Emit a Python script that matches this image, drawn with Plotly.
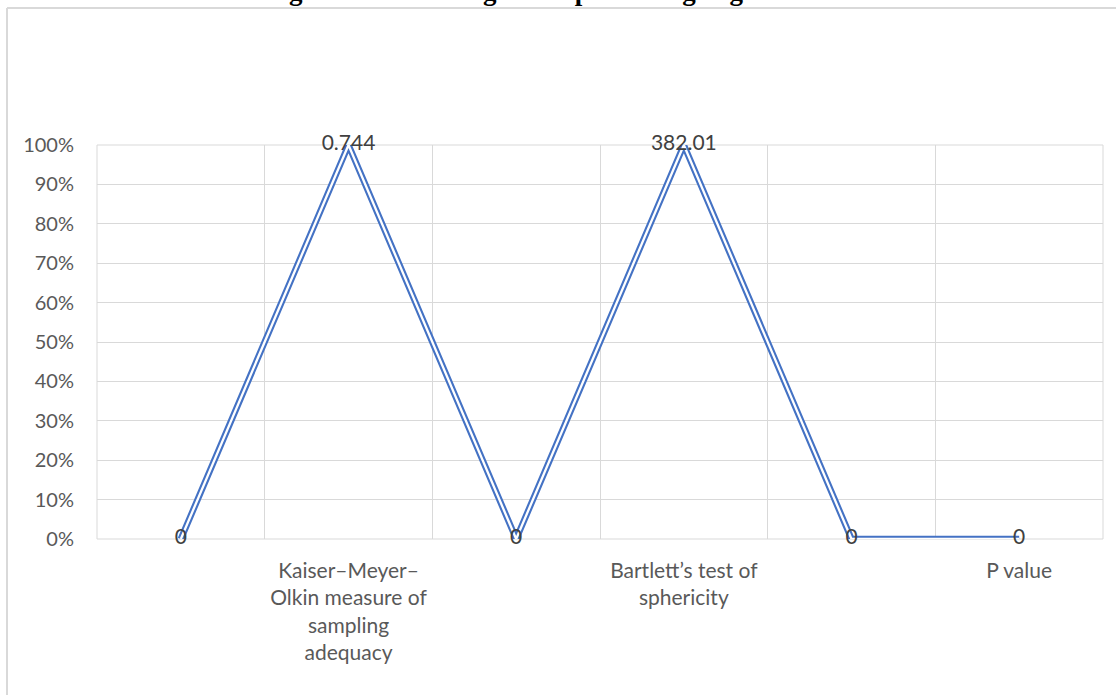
import plotly.graph_objects as go

# Chart data
categories = ["", "Kaiser–Meyer–Olkin measure of sampling adequacy", "",
              "Bartlett’s test of sphericity", "", "P value"]
tick_labels = ["", "Kaiser–Meyer–<br>Olkin measure of<br>sampling<br>adequacy", "",
               "Bartlett’s test of<br>sphericity", "", "P value"]
values = [0, 0.744, 0, 382.01, 0, 0]
value_labels = ["0", "0.744", "0", "382.01", "0", "0"]

# 100% stacked: each point is its share of the column total (single series)
totals = list(values)
shares = [v / t if t else 0 for v, t in zip(values, totals)]
xpos = list(range(len(categories)))

W, H = 1116, 695
L, R, T, B = 97, 13, 145, 156
pw, ph = W - L - R, H - T - B

def px_to_paper_x(px):
    return (px - L) / pw

def px_to_paper_y(py):
    return (H - B - py) / ph

BLUE = "#4472C4"
GRID = "#D9D9D9"
FONT = "Lato"

fig = go.Figure()
# compound (double) line: wide blue stroke with a thin white core
fig.add_trace(go.Scatter(x=xpos, y=shares, mode="lines",
                         line=dict(color=BLUE, width=6.5), cliponaxis=False,
                         hoverinfo="skip", showlegend=False))
fig.add_trace(go.Scatter(x=xpos, y=shares, mode="lines",
                         line=dict(color="white", width=2.3), cliponaxis=False,
                         hoverinfo="skip", showlegend=False))
fig.add_trace(go.Scatter(x=xpos, y=shares, mode="text", text=value_labels,
                         textposition="middle center",
                         textfont=dict(family=FONT, size=21, color="#404040"),
                         cliponaxis=False, hoverinfo="skip", showlegend=False))

fig.update_layout(
    width=W, height=H,
    margin=dict(l=L, r=R, t=T, b=B, autoexpand=False),
    paper_bgcolor="white", plot_bgcolor="white",
    font=dict(family=FONT, color="#595959", size=20),
    xaxis=dict(range=[-0.5, 5.5], tickvals=xpos, ticktext=tick_labels,
               showgrid=False, zeroline=False, showline=False, ticks="",
               ticklabelstandoff=17,
               tickfont=dict(family=FONT, size=21, color="#595959"),
               minor=dict(tickvals=[i - 0.5 for i in range(len(categories) + 1)],
                          showgrid=True, gridcolor=GRID, gridwidth=1, ticks="")),
    yaxis=dict(range=[0, 1], tickvals=[i / 10 for i in range(11)],
               tickformat=".0%", showgrid=True, gridcolor=GRID, gridwidth=1,
               zeroline=False, showline=False, ticks="", ticklabelstandoff=22,
               tickfont=dict(family=FONT, size=20, color="#595959")),
)

# plot-area outline (gridlines along the edges)
fig.add_shape(type="rect", xref="paper", yref="paper", x0=0, x1=1, y0=0, y1=1,
              line=dict(color=GRID, width=1), layer="below")

# outer chart frame (top and left edges)
fx0, fy0 = px_to_paper_x(7), px_to_paper_y(8)
fig.add_shape(type="line", xref="paper", yref="paper", x0=fx0, x1=1.2, y0=fy0, y1=fy0,
              line=dict(color=GRID, width=2))
fig.add_shape(type="line", xref="paper", yref="paper", x0=fx0, x1=fx0, y0=fy0, y1=-0.5,
              line=dict(color=GRID, width=2))

# figure caption above the frame
fig.add_annotation(text="<b>Figure 4.1: Bar diagram representing negative correlations of items</b>",
                   xref="paper", yref="paper", x=px_to_paper_x(652), y=px_to_paper_y(8),
                   xanchor="center", yanchor="bottom", showarrow=False,
                   font=dict(family="Liberation Serif", size=27, color="black"))

fig.write_html("out.html")
